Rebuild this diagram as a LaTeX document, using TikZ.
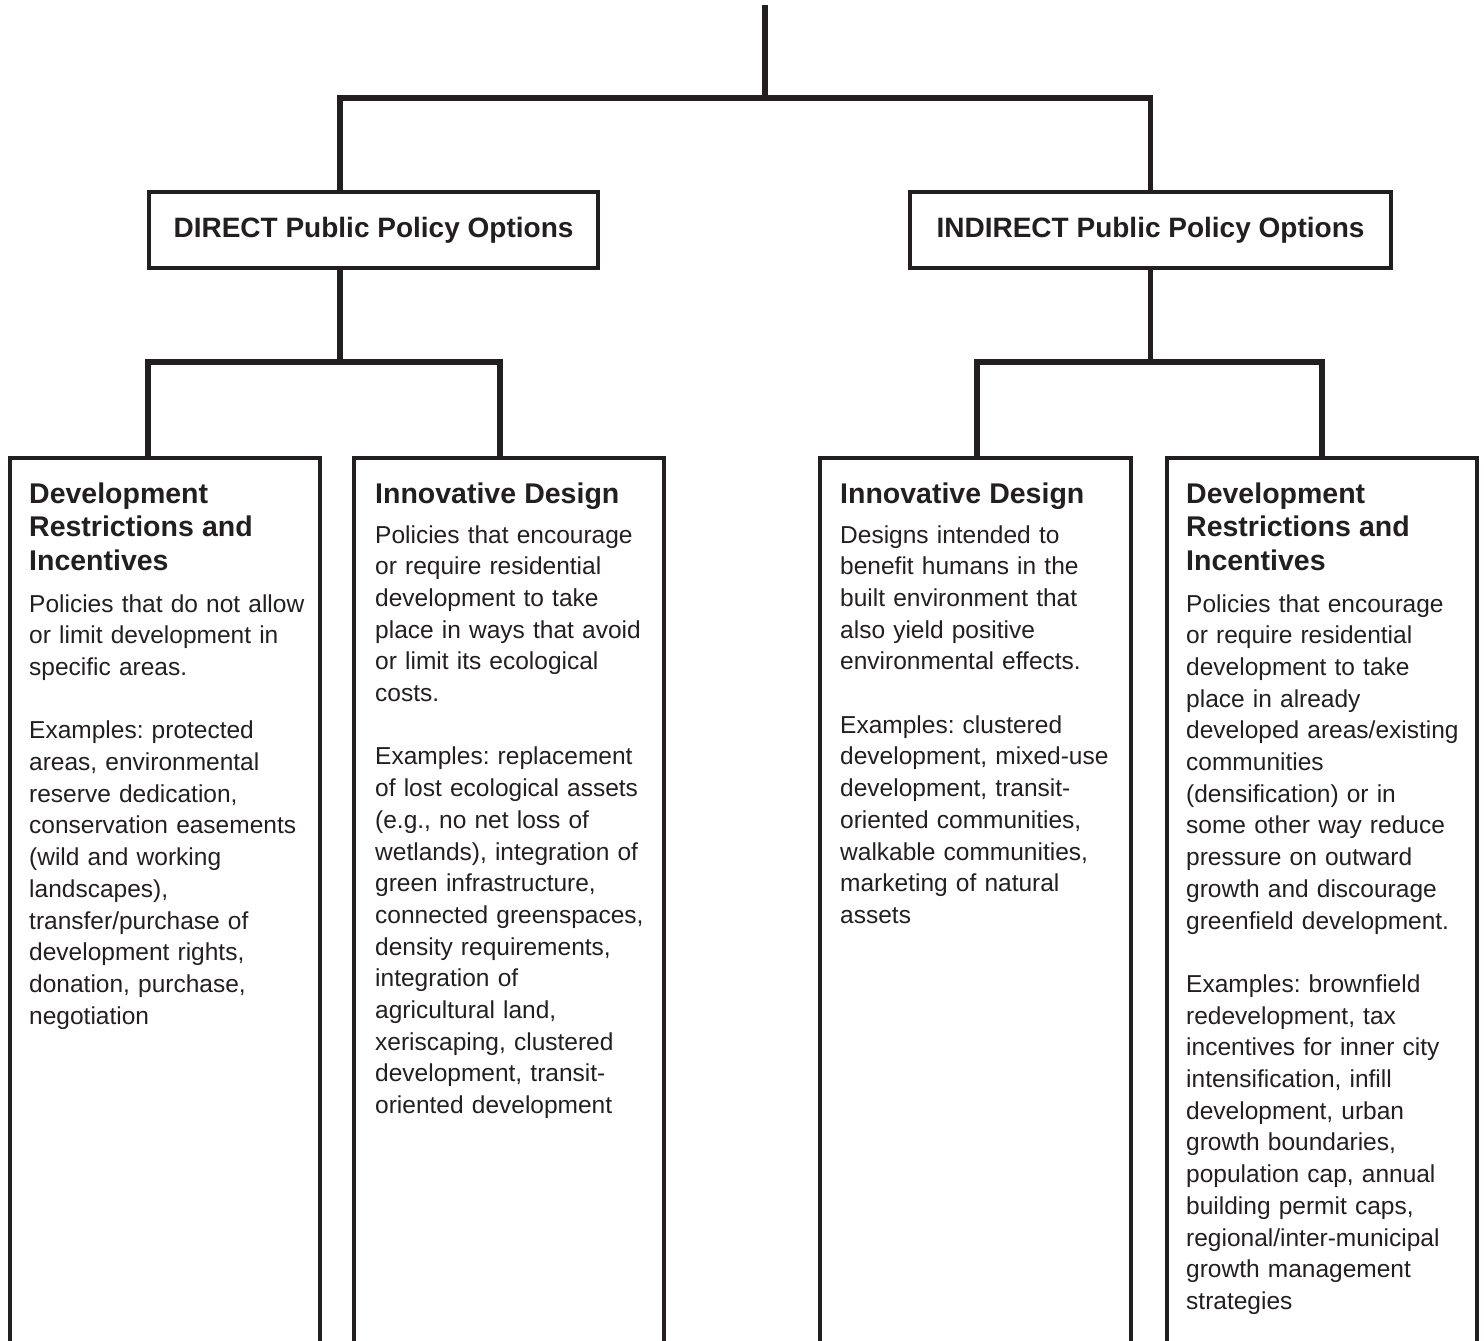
\documentclass[tikz,border=0pt]{standalone}
\usepackage{fontspec}
\setmainfont{Liberation Sans}
\usepackage{tikz}
\usetikzlibrary{positioning}
\definecolor{ink}{HTML}{231F20}
\newcommand{\headsize}{\fontsize{28.5bp}{33.5bp}\selectfont\bfseries}
\newcommand{\bodysize}{\fontsize{24.5bp}{31.7bp}\selectfont\frenchspacing}

\begin{document}
\begin{tikzpicture}[
  x=1bp, y=-1bp,
	title/.style={
	draw=ink,
	line width=4.5bp,
	fill=white,
	rectangle,
	text=ink,
	minimum height=76bp,
	inner sep=0pt,
	font=\fontsize{28bp}{33bp}\selectfont\bfseries},
	panel/.style={
	rectangle,
	anchor=north west,
	minimum width=310bp,
	minimum height=883bp,
	inner sep=0pt,
	outer sep=0pt},
	frame/.style={
	draw=ink,
	line width=4.5bp},
	blurb/.style={
	anchor=base west,
	text width=300bp,
	align=left,
	inner sep=0pt,
	text=ink,
	font=\bodysize},
	link/.style={
	draw=ink,
	line width=5.5bp
	}]

	\useasboundingbox (0,0) rectangle (1484,1341);

	% Root
	\coordinate (top) at (765,5);
	\coordinate (hub) at (765,98);

	% Options
	\node [title, minimum width=449bp] at (373.5,230)  (direct)   {DIRECT Public Policy Options};
	\node [title, minimum width=481bp] at (1150.5,230) (indirect) {INDIRECT Public Policy Options};
	\coordinate (dsplit) at (340,362);
	\coordinate (isplit) at (1150.5,362);

	% Panels
	\node [panel] at (10,458)   (dres) {};
	\node [panel] at (354,458)  (dinn) {};
	\node [panel, minimum width=311bp] at (820,458) (iinn) {};
	\node [panel] at (1167,458) (ires) {};

	\draw[frame] (dres.south west) |- (dres.north east) -- (dres.south east);
	\draw[frame] (dinn.south west) |- (dinn.north east) -- (dinn.south east);
	\draw[frame] (iinn.south west) |- (iinn.north east) -- (iinn.south east);
	\draw[frame] (ires.south west) |- (ires.north east) -- (ires.south east);

	% Texts
	\node [blurb] at ([xshift=19bp, yshift=-45bp]dres.north west) (drestext) {%
	{\headsize Development\\Restrictions and\\Incentives\par}\vspace{10.3bp}%
	Policies that do not allow\\or limit development in\\specific areas.\par\vspace{31.7bp}%
	Examples: protected\\areas, environmental\\reserve dedication,\\conservation easements\\(wild and working\\landscapes),\\transfer/purchase of\\development rights,\\donation, purchase,\\negotiation};

	\node [blurb] at ([xshift=21bp, yshift=-45bp]dinn.north west) (dinntext) {%
	{\headsize Innovative Design\par}\vspace{8.3bp}%
	Policies that encourage\\or require residential\\development to take\\place in ways that avoid\\or limit its ecological\\costs.\par\vspace{31.7bp}%
	Examples: replacement\\of lost ecological assets\\(e.g., no net loss of\\wetlands), integration of\\green infrastructure,\\connected greenspaces,\\density requirements,\\integration of\\agricultural land,\\xeriscaping, clustered\\development, transit-\\oriented development};

	\node [blurb] at ([xshift=20bp, yshift=-45bp]iinn.north west) (iinntext) {%
	{\headsize Innovative Design\par}\vspace{8.3bp}%
	Designs intended to\\benefit humans in the\\built environment that\\also yield positive\\environmental effects.\par\vspace{31.7bp}%
	Examples: clustered\\development, mixed-use\\development, transit-\\oriented communities,\\walkable communities,\\marketing of natural\\assets};

	\node [blurb] at ([xshift=19bp, yshift=-45bp]ires.north west) (irestext) {%
	{\headsize Development\\Restrictions and\\Incentives\par}\vspace{10.3bp}%
	Policies that encourage\\or require residential\\development to take\\place in already\\developed areas/existing\\communities\\(densification) or in\\some other way reduce\\pressure on outward\\growth and discourage\\greenfield development.\par\vspace{31.7bp}%
	Examples: brownfield\\redevelopment, tax\\incentives for inner city\\intensification, infill\\development, urban\\growth boundaries,\\population cap, annual\\building permit caps,\\regional/inter-municipal\\growth management\\strategies};

	% Links
	\draw[link] (top) -- (hub);
	\draw[link] (direct.north -| dsplit) |- (hub) -| (indirect.north);
	\draw[link] (direct.south -| dsplit) -- (dsplit);
	\draw[link] (indirect.south) -- (isplit);
	\draw[link] ([xshift=-17bp]dres.north) |- (dsplit) -| ([xshift=-9bp]dinn.north);
	\draw[link] ([xshift=1.5bp]iinn.north) |- (isplit) -| (ires.north);

\end{tikzpicture}
\end{document}
